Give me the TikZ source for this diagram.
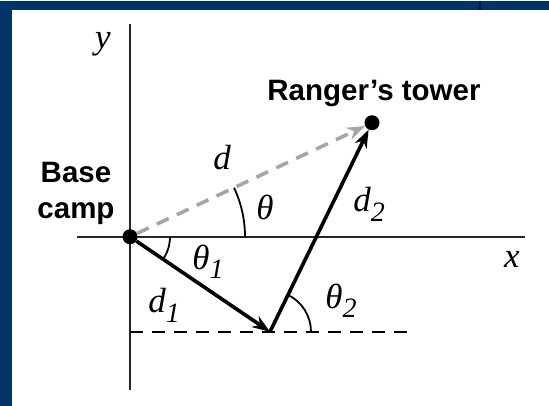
\documentclass[tikz,border=0pt]{standalone}
\usepackage{fontspec}
\setmainfont{Liberation Serif}
\newfontfamily\tagfont{Liberation Sans}
\usetikzlibrary{arrows.meta}
\definecolor{navy}{RGB}{0,51,102}
\newcommand{\lowidx}[1]{\raisebox{-0.28em}{\fontsize{28}{28}\selectfont #1}}

\begin{document}
\begin{tikzpicture}[x=1pt, y=-1pt, line join=round, >={Stealth[length=18pt,width=13pt]},
	axis/.style={line width=1.8pt, black!85},
	vec/.style={->, line width=3.6pt},
	mlabel/.style={font=\fontsize{35}{35}\selectfont\itshape, inner sep=0pt},
	tlabel/.style={font=\tagfont\bfseries\fontsize{29.5}{36}\selectfont, align=center, inner sep=0pt},
	spot/.style={circle, fill=black, minimum size=15pt, inner sep=0pt}]
	% frame
	\fill[navy] (0,0) rectangle (549,405);
	\fill[white] (12,9) rectangle (549,405);
	\draw[line width=1.5pt, black!60!navy] (480,0) -- (480,9);
	\path
	(130,236) coordinate (O)
	(77,236) coordinate (xl)
	(525,236) coordinate (xr)
	(130,23) coordinate (yt)
	(130,389) coordinate (yb)
	(270,331) coordinate (K)
	(130,331) coordinate (Ks)
	(407,331) coordinate (Ke)
	;
	\draw[axis] (xl) -- (xr);
	\draw[axis] (yt) -- (yb);
	\draw[line width=1.8pt, dash pattern=on 13pt off 9pt] (Ks) -- (Ke);
	\node[spot] (camp) at (O) {};
	\node[spot] (tower) at (372,122) {};
	\draw[vec, gray!70, dash pattern=on 13pt off 9pt] (camp) -- (tower);
	\draw[vec] (camp) -- (K);
	\draw[vec] (K) -- (tower);
	% angles
	\draw[line width=1.8pt] (O) ++(115,0) arc[start angle=0, end angle=-25.2, radius=115];
	\draw[line width=1.8pt] (O) ++(40,0) arc[start angle=0, end angle=34.2, radius=40];
	\draw[line width=1.8pt] (K) ++(41,0) arc[start angle=0, end angle=-64, radius=41];
	% labels
	\node[mlabel] (ylab) at (103,43) {y};
	\node[mlabel] (xlab) at (512,259) {x};
	\node[mlabel] (dlab) at (222,157) {d};
	\node[mlabel] (thlab) at (265,207) {θ};
	\node[mlabel] (th1lab) at (208,261) {θ\lowidx{1}};
	\node[mlabel] (d1lab) at (164,305) {d\lowidx{1}};
	\node[mlabel] (d2lab) at (369,204) {d\lowidx{2}};
	\node[mlabel] (th2lab) at (341,300) {θ\lowidx{2}};
	\node[tlabel] (towerlab) at (374,93) {Ranger’s tower};
	\node[tlabel] (camplab) at (76,193) {Base\\camp};
\end{tikzpicture}
\end{document}
